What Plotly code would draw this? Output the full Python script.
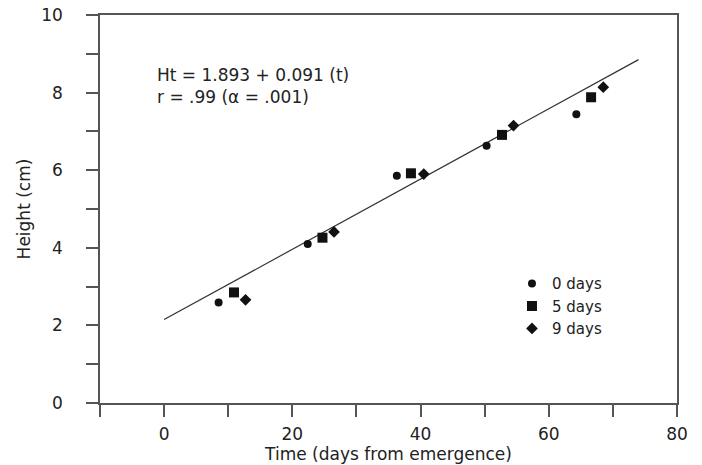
import plotly.graph_objects as go

# Data
days0_x = [8.5, 22.4, 36.3, 50.3, 64.3]
days0_y = [2.59, 4.10, 5.86, 6.63, 7.44]
days5_x = [10.9, 24.7, 38.5, 52.7, 66.6]
days5_y = [2.85, 4.26, 5.92, 6.91, 7.88]
days9_x = [12.7, 26.5, 40.5, 54.5, 68.5]
days9_y = [2.66, 4.41, 5.90, 7.15, 8.14]
fit_x = [0, 74]
fit_y = [2.15, 8.85]

series_names = ["0 days", "5 days", "9 days"]
equation_text = "Ht = 1.893 + 0.091 (t)<br>r = .99 (\u03b1 = .001)"

FONT = "DejaVu Sans, Liberation Sans, Arial, sans-serif"
INK = "#222222"
AXIS = "#555555"

fig = go.Figure()
fig.add_trace(go.Scatter(x=fit_x, y=fit_y, mode="lines",
                         line=dict(color="#333333", width=1.2),
                         showlegend=False, hoverinfo="skip"))
fig.add_trace(go.Scatter(x=days0_x, y=days0_y, mode="markers", name=series_names[0],
                         marker=dict(symbol="circle", size=8, color="#111111")))
fig.add_trace(go.Scatter(x=days5_x, y=days5_y, mode="markers", name=series_names[1],
                         marker=dict(symbol="square", size=10, color="#111111")))
fig.add_trace(go.Scatter(x=days9_x, y=days9_y, mode="markers", name=series_names[2],
                         marker=dict(symbol="diamond", size=9, color="#111111")))

fig.add_annotation(text=equation_text, xref="paper", yref="paper",
                   x=0.096, y=0.818, xanchor="left", yanchor="middle",
                   align="left", showarrow=False,
                   font=dict(family=FONT, size=17, color=INK))

axis_common = dict(showline=True, linecolor=AXIS, linewidth=1.5, mirror=True,
                   ticks="outside", ticklen=12, tickwidth=1.5, tickcolor=AXIS,
                   showgrid=False, zeroline=False, automargin=False,
                   tickfont=dict(family=FONT, size=17, color=INK))

fig.update_layout(
    width=702, height=465, autosize=False,
    margin=dict(l=100, r=25, t=15, b=62, autoexpand=False),
    paper_bgcolor="white", plot_bgcolor="white",
    font=dict(family=FONT, size=17, color=INK),
    xaxis=dict(range=[-10, 80], tickvals=[0, 20, 40, 60, 80],
               minor=dict(tickvals=[-10, 10, 30, 50, 70], ticks="outside",
                          ticklen=12, tickwidth=1.5, tickcolor=AXIS),
               ticklabelstandoff=3,
               title=dict(text="Time (days from emergence)", standoff=5,
                          font=dict(family=FONT, size=17, color=INK)),
               **axis_common),
    yaxis=dict(range=[0, 10], tickvals=[0, 2, 4, 6, 8, 10],
               minor=dict(tickvals=[1, 3, 5, 7, 9], ticks="outside",
                          ticklen=12, tickwidth=1.5, tickcolor=AXIS),
               ticklabelstandoff=20,
               title=dict(text="Height (cm)", standoff=6,
                          font=dict(family=FONT, size=17, color=INK)),
               **axis_common),
    legend=dict(x=0.714, y=0.35, xanchor="left", yanchor="top",
                bgcolor="rgba(0,0,0,0)", borderwidth=0,
                font=dict(family=FONT, size=15, color=INK),
                tracegroupgap=0, itemwidth=30),
)

fig.write_html("out.html",
               config={"displayModeBar": False, "responsive": False},
               post_script=("document.documentElement.style.margin='0';"
                            "document.documentElement.style.overflow='hidden';"
                            "document.body.style.margin='0';"
                            "document.body.style.padding='0';"
                            "document.body.style.overflow='hidden';"))
